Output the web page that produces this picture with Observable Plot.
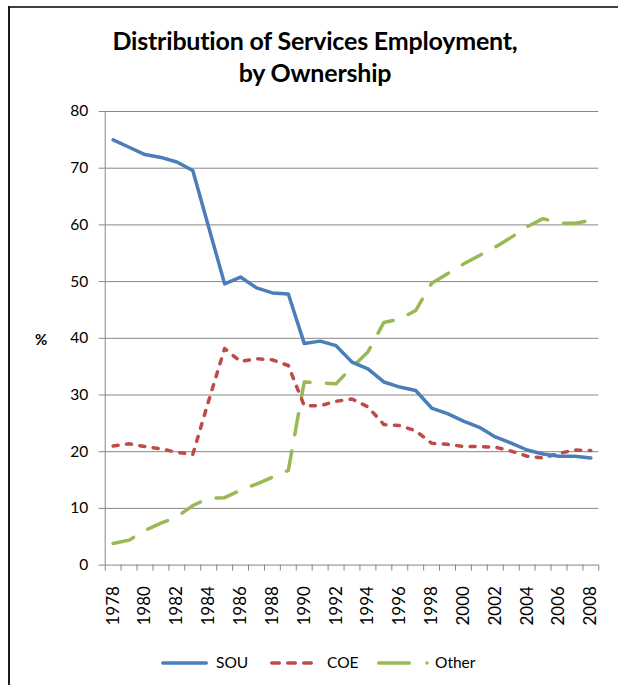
<!DOCTYPE html>
<html>
<head>
<meta charset="utf-8">
<script src="https://cdn.jsdelivr.net/npm/d3@7"></script>
<script src="https://cdn.jsdelivr.net/npm/@observablehq/plot@0.6"></script>
<style>
  html, body { margin: 0; padding: 0; background: #fff; }
  #wrap { position: relative; width: 618px; height: 685px; overflow: hidden; font-family: Lato, "Noto Sans", sans-serif; }
  .title { position: absolute; left: 8px; width: 614px; text-align: center; font-weight: bold; font-size: 25px; line-height: 32px; color: #000; white-space: nowrap; letter-spacing: -0.2px; }
  #frameTop { position: absolute; left: 8px; top: 6px; width: 610px; height: 2px; background: #404040; }
  #frameLeft { position: absolute; left: 8px; top: 6px; width: 2px; height: 679px; background: #1a1a1a; }
  #plot { position: absolute; left: 0; top: 0; }
  #legend { position: absolute; left: 0; top: 640px; }
  #ylab { position: absolute; left: 35px; top: 330px; font-size: 15px; font-weight: bold; color: #000; }
</style>
</head>
<body>
<div id="wrap">
  <div id="frameTop"></div>
  <div id="frameLeft"></div>
  <div class="title" style="top:23.5px">Distribution of Services Employment,</div>
  <div class="title" style="top:55.5px">by Ownership</div>
  <div id="plot"></div>
  <div id="ylab">%</div>
  <div id="legend"></div>
</div>
<script>
const years = [1978,1979,1980,1981,1982,1983,1984,1985,1986,1987,1988,1989,1990,1991,1992,1993,1994,1995,1996,1997,1998,1999,2000,2001,2002,2003,2004,2005,2006,2007,2008];
const sou   = [75.0,73.7,72.4,71.9,71.1,69.6,59.6,49.6,50.8,48.9,48.0,47.8,39.1,39.5,38.7,35.8,34.6,32.3,31.4,30.8,27.7,26.7,25.4,24.3,22.6,21.5,20.3,19.6,19.2,19.2,18.9];
const coe   = [21.0,21.4,20.9,20.5,19.9,19.5,29.0,38.2,35.9,36.4,36.2,35.2,28.1,28.1,28.9,29.3,27.9,24.8,24.6,23.7,21.5,21.3,20.9,20.9,20.8,20.1,19.2,18.9,19.7,20.3,20.2];
const other = [3.8,4.4,6.1,7.4,8.5,10.5,11.8,11.9,13.2,14.3,15.5,16.7,32.3,32.1,32.0,34.9,37.6,42.8,43.4,44.9,49.7,51.4,53.1,54.6,56.1,57.8,59.7,61.1,60.3,60.3,60.8];
const yTicks = [0,10,20,30,40,50,60,70,80];
const xLabels = [1978,1980,1982,1984,1986,1988,1990,1992,1994,1996,1998,2000,2002,2004,2006,2008];
const seriesNames = ["SOU","COE","Other"];

const colors = { SOU: "#4A7EBB", COE: "#BE4B48", Other: "#98B954" };
const gridColor = "#878787";

const toRows = (vals) => years.map((year, i) => ({ year, value: vals[i] }));
const boundaries = years.map(y => y - 0.5).concat([years[years.length - 1] + 0.5]);

const chart = Plot.plot({
  width: 618,
  height: 640,
  marginLeft: 104.7,
  marginRight: 19.7,
  marginTop: 111,
  marginBottom: 75.4,
  x: { domain: [boundaries[0], boundaries[boundaries.length - 1]] },
  y: { domain: [0, 80] },
  style: { fontFamily: "Lato, 'Noto Sans', sans-serif", fontSize: "15px", color: "#000", background: "transparent", overflow: "visible" },
  marks: [
    Plot.ruleY(yTicks.filter(v => v > 0), { stroke: gridColor, strokeWidth: 1 }),
    Plot.ruleX([boundaries[0]], { stroke: gridColor, strokeWidth: 1 }),
    Plot.ruleY([0], { stroke: gridColor, strokeWidth: 1 }),
    Plot.axisY({ ticks: yTicks, tickSize: 6, tickPadding: 11, stroke: gridColor, fill: "#000", label: null, fontSize: 15.5 }),
    Plot.axisX({ ticks: boundaries, tickSize: 6, tickFormat: () => "", stroke: gridColor, label: null }),
    Plot.axisX({ ticks: xLabels, tickSize: 0, tickPadding: 21, tickRotate: -90, tickFormat: d => String(d), fill: "#000", label: null, fontSize: 17 }),
    Plot.lineY(toRows(other), { x: "year", y: "value", stroke: colors.Other, strokeWidth: 3.5, strokeLinecap: "round", strokeLinejoin: "round", strokeDasharray: "21.5,16.5" }),
    Plot.lineY(toRows(coe), { x: "year", y: "value", stroke: colors.COE, strokeWidth: 3.5, strokeLinecap: "round", strokeLinejoin: "round", strokeDasharray: "5,8.5" }),
    Plot.lineY(toRows(sou), { x: "year", y: "value", stroke: colors.SOU, strokeWidth: 3.5, strokeLinecap: "round", strokeLinejoin: "round" })
  ]
});
document.getElementById("plot").appendChild(chart);

// Legend
const lg = d3.select("#legend").append("svg").attr("width", 618).attr("height", 45)
  .style("font-family", "Lato, 'Noto Sans', sans-serif").style("font-size", "15.5px");
const ly = 23;
// SOU
lg.append("line").attr("x1", 162.75).attr("x2", 206.25).attr("y1", ly).attr("y2", ly)
  .attr("stroke", colors.SOU).attr("stroke-width", 3.5).attr("stroke-linecap", "round");
lg.append("text").attr("x", 216).attr("y", ly).attr("dy", "0.35em").text(seriesNames[0]);
// COE
lg.append("line").attr("x1", 271.75).attr("x2", 311.25).attr("y1", ly).attr("y2", ly)
  .attr("stroke", colors.COE).attr("stroke-width", 3.5).attr("stroke-linecap", "round").attr("stroke-dasharray", "7.5,8.5");
lg.append("text").attr("x", 327).attr("y", ly).attr("dy", "0.35em").text(seriesNames[1]);
// Other
lg.append("line").attr("x1", 378.75).attr("x2", 409.25).attr("y1", ly).attr("y2", ly)
  .attr("stroke", colors.Other).attr("stroke-width", 3.5).attr("stroke-linecap", "round");
lg.append("circle").attr("cx", 427).attr("cy", ly).attr("r", 1.75).attr("fill", colors.Other);
lg.append("text").attr("x", 435).attr("y", ly).attr("dy", "0.35em").text(seriesNames[2]);
</script>
</body>
</html>
